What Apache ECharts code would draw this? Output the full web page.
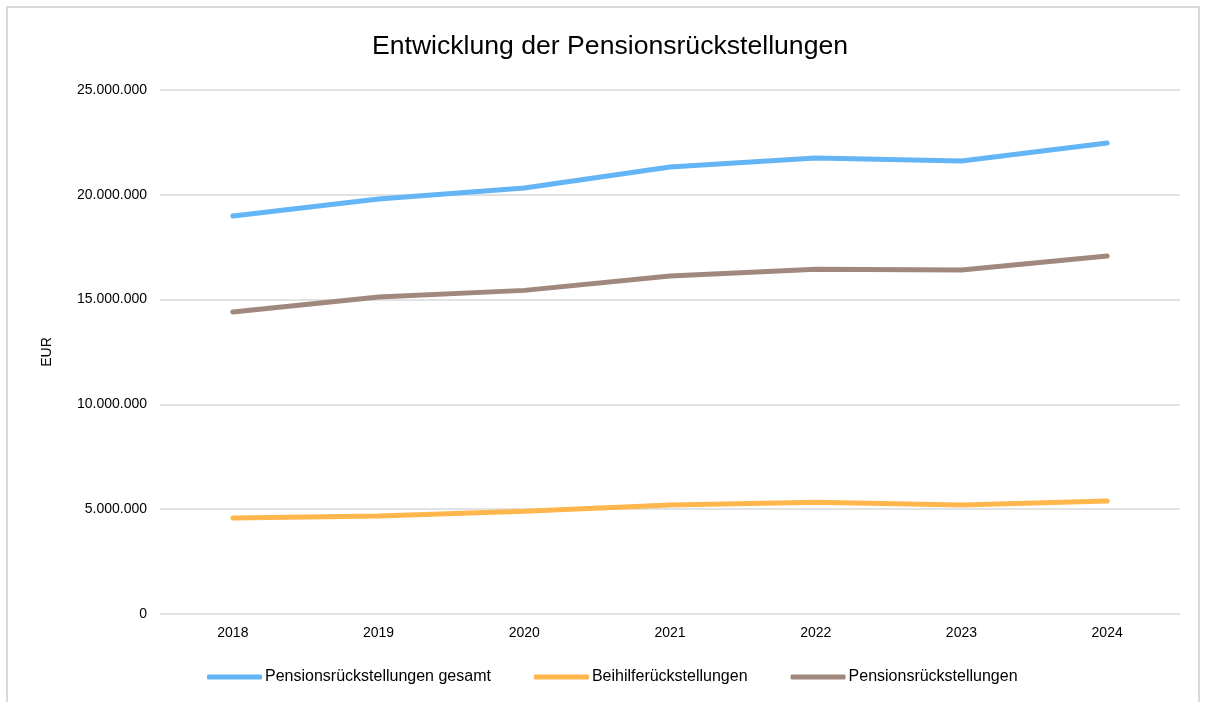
<!doctype html>
<html>
<head>
	<meta charset="utf-8">
	<script src="https://cdn.jsdelivr.net/npm/echarts@6/dist/echarts.min.js"></script>
	<style>
		html, body { margin: 0; padding: 0; background: #fff; }
		#frame { position: absolute; left: 6px; top: 6px; width: 1194px; height: 720px; border: 2px solid #d9d9d9; box-sizing: border-box; }
		#chart { position: absolute; left: 0; top: 0; width: 1205px; height: 702px; }
	</style>
</head>
<body>
	<div id="frame"></div>
	<div id="chart"></div>
<script>
	var years = ['2018', '2019', '2020', '2021', '2022', '2023', '2024'];
	var gesamt = [18990000, 19800000, 20320000, 21330000, 21760000, 21610000, 22470000];
	var beihilfe = [4580000, 4680000, 4900000, 5200000, 5330000, 5200000, 5390000];
	var pension = [14410000, 15120000, 15440000, 16130000, 16450000, 16410000, 17080000];
	var seriesNames = ['Pensionsrückstellungen gesamt', 'Beihilferückstellungen', 'Pensionsrückstellungen'];
	var colors = ['#64b5f6', '#ffb74d', '#a1887f'];

	function fmt(v) {
		return String(v).replace(/\B(?=(\d{3})+(?!\d))/g, '.');
	}

	var myChart = echarts.init(document.getElementById('chart'));
	var font = 'Liberation Sans, Arial, sans-serif';
	var option = {
		animation: false,
		color: colors,
		title: {
			text: 'Entwicklung der Pensionsrückstellungen',
			left: 367,
			top: 28,
			textStyle: { fontFamily: font, fontSize: 26.6, fontWeight: 'normal', color: '#000' }
		},
		legend: {
			bottom: 12,
			left: 202,
			itemWidth: 55,
			itemHeight: 5,
			itemGap: 43,
			icon: 'roundRect',
			data: seriesNames,
			textStyle: { fontFamily: font, fontSize: 16, color: '#000', padding: [0, 0, 0, -2] }
		},
		grid: { left: 160, right: 25, top: 90, bottom: 88 },
		xAxis: {
			type: 'category',
			data: years,
			axisLine: { show: false },
			axisTick: { show: false },
			axisLabel: { fontFamily: font, fontSize: 14, color: '#000', margin: 12 }
		},
		yAxis: {
			type: 'value',
			min: 0,
			max: 25000000,
			interval: 5000000,
			name: 'EUR',
			nameLocation: 'middle',
			nameGap: 106,
			nameTextStyle: { fontFamily: font, fontSize: 14, color: '#000' },
			axisLabel: { fontFamily: font, fontSize: 14, color: '#000', margin: 13, formatter: fmt },
			splitLine: { lineStyle: { color: '#d9d9d9', width: 1.5 } }
		},
		series: [
			{ name: seriesNames[0], type: 'line', data: gesamt, symbol: 'none', lineStyle: { width: 5, cap: 'round' } },
			{ name: seriesNames[1], type: 'line', data: beihilfe, symbol: 'none', lineStyle: { width: 5, cap: 'round' } },
			{ name: seriesNames[2], type: 'line', data: pension, symbol: 'none', lineStyle: { width: 5, cap: 'round' } }
		]
	};
	myChart.setOption(option);
</script>
</body>
</html>
